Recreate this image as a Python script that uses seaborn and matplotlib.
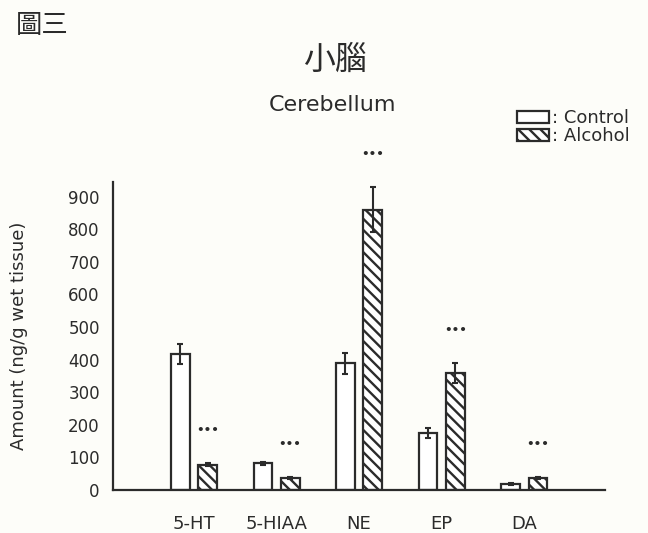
import matplotlib
matplotlib.use("Agg")
import matplotlib.pyplot as plt
from matplotlib.patches import Patch
import seaborn as sns
import pandas as pd

# Monoamine levels in the cerebellum (ng/g wet tissue), mean and SEM
categories = ["5-HT", "5-HIAA", "NE", "EP", "DA"]
control_mean = [418, 82, 388, 175, 18]
control_sem = [31, 5, 33, 14, 2]
alcohol_mean = [78, 37, 860, 358, 38]
alcohol_sem = [5, 3, 68, 31, 3]
groups = ["Control", "Alcohol"]
significance = ["•••", "•••", "•••", "•••", "•••"]
y_ticks = [0, 100, 200, 300, 400, 500, 600, 700, 800, 900]

INK = "#2b2b2b"
PAPER = "#fdfdf9"

sns.set_theme(style="white")
plt.rcParams["font.family"] = ["DejaVu Sans", "Noto Sans CJK TC"]
plt.rcParams["hatch.linewidth"] = 1.7
plt.rcParams["hatch.color"] = INK

df = pd.DataFrame({
    "compound": categories * 2,
    "group": [groups[0]] * len(categories) + [groups[1]] * len(categories),
    "amount": control_mean + alcohol_mean,
})

fig = plt.figure(figsize=(6.48, 5.33), dpi=100, facecolor=PAPER)
ax = fig.add_axes([0.1744, 0.0807, 0.7596, 0.578], facecolor=PAPER)

sns.barplot(data=df, x="compound", y="amount", hue="group", order=categories,
            hue_order=groups, errorbar=None, width=0.66, gap=0.31,
            palette=["white", "white"], edgecolor=INK, linewidth=1.6,
            legend=False, ax=ax)

hatches = ["", "\\\\\\"]
sems = [control_sem, alcohol_sem]
means = [control_mean, alcohol_mean]
bar_containers = list(ax.containers)
for k, container in enumerate(bar_containers):
    xs = []
    for patch in container.patches:
        patch.set_hatch(hatches[k])
        patch.set_facecolor("white")
        xs.append(patch.get_x() + patch.get_width() / 2)
    ax.errorbar(xs, means[k], yerr=sems[k], fmt="none", ecolor=INK,
                elinewidth=1.5, capsize=2.5, capthick=1.5, zorder=5)
    if k == 1:
        for x, m, s, mark in zip(xs, means[k], sems[k], significance):
            ax.text(x, m + s + 100, mark, ha="center", va="center",
                    fontsize=8.5, color=INK, fontweight="bold")

ax.set_xlim(-0.98, 4.98)
ax.set_ylim(0, 945)
ax.set_yticks(y_ticks)
ax.set_xlabel("")
ax.set_ylabel("Amount (ng/g wet tissue)", fontsize=13, color=INK, labelpad=29)
sns.despine(ax=ax)
for side in ["left", "bottom"]:
    ax.spines[side].set_color(INK)
    ax.spines[side].set_linewidth(1.6)
ax.tick_params(axis="y", direction="inout", length=9, width=1.5, colors=INK,
               labelsize=12, pad=5)
ax.tick_params(axis="x", length=0, labelsize=13, colors=INK, pad=18)

# titles
fig.text(0.065, 0.953, "圖三", family=["Noto Sans CJK TC"], fontsize=19,
         color=INK, ha="center", va="center")
fig.text(0.517, 0.888, "小腦", family=["Noto Sans CJK TC"], fontsize=23,
         color=INK, ha="center", va="center")
fig.text(0.513, 0.803, "Cerebellum", fontsize=16, color=INK,
         ha="center", va="center")

handles = [Patch(facecolor="white", edgecolor=INK, linewidth=1.6, hatch=h)
           for h in hatches]
fig.legend(handles, [": " + g for g in groups], loc="upper left",
           bbox_to_anchor=(517 / 648, 1 - 109 / 533), frameon=False,
           fontsize=13, handlelength=1.75, handleheight=0.66,
           handletextpad=0.2, labelspacing=0.0, borderpad=0,
           borderaxespad=0, labelcolor=INK)

fig.savefig("out.png", dpi=100, facecolor=PAPER)
